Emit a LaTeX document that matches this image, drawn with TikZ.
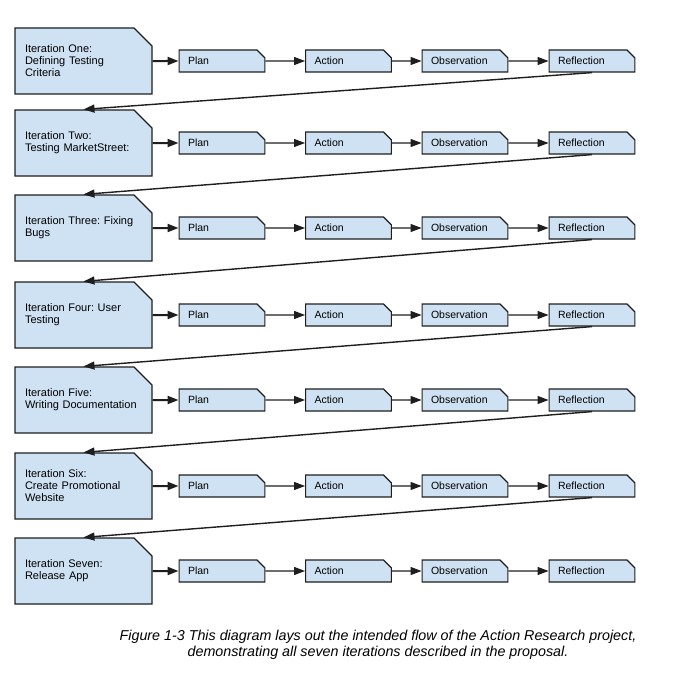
\documentclass[tikz,border=0pt]{standalone}
\usepackage{fontspec}
\setmainfont{Liberation Sans}
\frenchspacing
\usetikzlibrary{shapes.misc, arrows.meta, positioning}
\definecolor{BoxFill}{RGB}{207,226,243}
\definecolor{BoxLine}{RGB}{30,30,30}
\tikzset{
  iterbox/.style={chamfered rectangle, chamfered rectangle corners=north east,
    chamfered rectangle xsep=9pt, chamfered rectangle ysep=9pt,
    draw=BoxLine, line width=1.2pt, fill=BoxFill, text width=117pt, align=left,
    minimum height=66pt, inner xsep=1pt, inner ysep=0pt,
    font=\fontsize{11}{12}\selectfont},
  stepbox/.style={chamfered rectangle, chamfered rectangle corners=north east,
    chamfered rectangle xsep=4pt, chamfered rectangle ysep=4pt,
    draw=BoxLine, line width=1.2pt, fill=BoxFill, text width=68pt, align=left,
    minimum height=22pt, inner xsep=5pt, inner ysep=0pt,
    font=\fontsize{10.5}{12}\selectfont},
  arrow/.style={line width=1.2pt, BoxLine, -{Triangle[length=11pt,width=8pt]}},
  bigarrow/.style={arrow, line width=2pt},
  backarrow/.style={arrow, line width=1.4pt},
}

\begin{document}
\begin{tikzpicture}[x=1pt,y=-1pt]
  \useasboundingbox (0,0) rectangle (686,685);
  \foreach \i/\y/\txt in {
      1/61/{Iteration One:\\Defining Testing\\Criteria},
      2/143/{Iteration Two:\\Testing MarketStreet:},
      3/228/{Iteration Three: Fixing\\Bugs},
      4/315/{Iteration Four: User\\Testing},
      5/400/{Iteration Five:\\Writing Documentation},
      6/486/{Iteration Six:\\Create Promotional\\Website},
      7/571/{Iteration Seven:\\Release App}} {
    \node[iterbox] (it\i) at (83.5,\y) {\txt};
    \node[stepbox] (pl\i) at (222,\y) {Plan};
    \node[stepbox] (ac\i) at (348.5,\y) {Action};
    \node[stepbox] (ob\i) at (465,\y) {Observation};
    \node[stepbox] (re\i) at (592,\y) {Reflection};
    \draw[bigarrow] (it\i) -- (pl\i);
    \draw[arrow] (pl\i) -- (ac\i);
    \draw[arrow] (ac\i) -- (ob\i);
    \draw[arrow] (ob\i) -- (re\i);
  }
  \foreach \i [count=\j from 2] in {1,...,6}
    \draw[backarrow] (re\i.south) -- (it\j.north);

  \node[font=\fontsize{14.3}{16}\selectfont\itshape, align=center] (caption) at (378,645)
    {Figure 1-3 This diagram lays out the intended flow of the Action Research project,\\
     demonstrating all seven iterations described in the proposal.};
\end{tikzpicture}
\end{document}
